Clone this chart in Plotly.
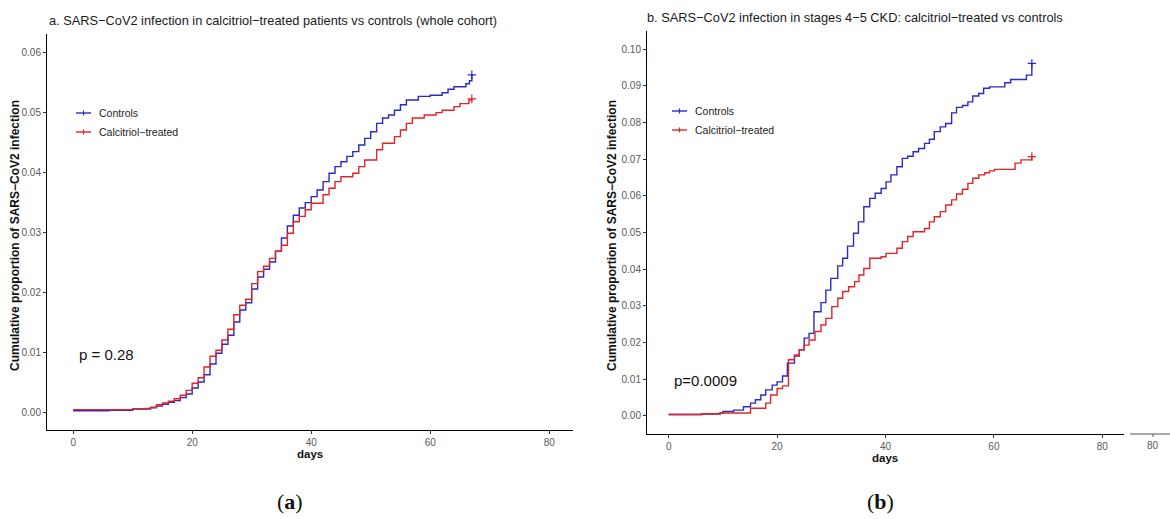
import plotly.graph_objects as go

W, H = 1170, 519

# ---------------- data ----------------
a_days_controls = [0, 6, 10, 13, 14, 15, 16, 17, 18, 19, 20, 21, 22, 23, 24, 25, 26, 27, 28, 29,
                   30, 31, 32, 33, 34, 35, 36, 37, 38, 39, 40, 41, 42, 43, 44, 45, 46, 47, 48, 49,
                   50, 51, 52, 53, 54, 55, 56, 58, 60, 62, 63, 64, 66, 66.6, 67]
a_controls = [0.0002, 0.0003, 0.0005, 0.0007, 0.0010, 0.0013, 0.0016, 0.0019, 0.0024, 0.0030,
              0.0040, 0.0050, 0.0062, 0.0080, 0.0098, 0.0113, 0.0128, 0.0150, 0.0170, 0.0182,
              0.0205, 0.0225, 0.0238, 0.0250, 0.0268, 0.0290, 0.0310, 0.0328, 0.0340, 0.0349,
              0.0359, 0.0370, 0.0384, 0.0398, 0.0409, 0.0417, 0.0426, 0.0434, 0.0445, 0.0456,
              0.0467, 0.0481, 0.0490, 0.0495, 0.0503, 0.0512, 0.0520, 0.0526, 0.0528, 0.0532,
              0.0538, 0.0542, 0.0547, 0.0552, 0.0562]
a_days_calcitriol = [0, 10, 12, 13, 14, 15, 16, 17, 18, 19, 20, 21, 22, 23, 24, 25, 26, 27, 28, 29,
                     30, 31, 32, 33, 34, 35, 36, 37, 38, 39, 40, 42, 43, 44, 45, 47, 48, 49, 51, 52,
                     54, 55, 56, 57, 59, 61, 62, 64, 65, 66.5, 67]
a_calcitriol = [0.0004, 0.0005, 0.0006, 0.0008, 0.0012, 0.0015, 0.0018, 0.0022, 0.0028, 0.0036,
                0.0048, 0.0057, 0.0075, 0.0093, 0.0103, 0.0120, 0.0138, 0.0162, 0.0178, 0.0188,
                0.0214, 0.0234, 0.0243, 0.0256, 0.0268, 0.0278, 0.0298, 0.0317, 0.0326, 0.0337,
                0.0348, 0.0362, 0.0373, 0.0384, 0.0392, 0.0398, 0.0409, 0.0420, 0.0437, 0.0448,
                0.0459, 0.0470, 0.0481, 0.0490, 0.0495, 0.0499, 0.0503, 0.0509, 0.0514, 0.0520,
                0.0522]

b_days_controls = [0, 6, 9.5, 10, 12, 13.8, 15.1, 16, 17, 17.9, 19.1, 20, 21, 21.9, 23.2, 24.1,
                   25, 25.9, 26.8, 28.1, 29, 29.9, 31.2, 32.1, 33, 34.1, 35, 36, 37.1, 38.1, 39.2,
                   40.1, 41, 42.1, 43.1, 44.1, 45.1, 46.1, 47.2, 48.1, 49, 50.1, 51.1, 52.2, 53.1,
                   54.2, 55.2, 56.1, 57.2, 58.1, 59.2, 62, 63.1, 66, 67]
b_controls = [0.0004, 0.0005, 0.0008, 0.0012, 0.0016, 0.0025, 0.0035, 0.0044, 0.0057, 0.0071,
              0.0084, 0.0093, 0.0109, 0.0144, 0.0163, 0.0180, 0.0212, 0.0225, 0.0284, 0.0309,
              0.0343, 0.0375, 0.0409, 0.0430, 0.0463, 0.0498, 0.0529, 0.0570, 0.0593, 0.0607,
              0.0620, 0.0638, 0.0657, 0.0679, 0.0702, 0.0708, 0.0720, 0.0729, 0.0743, 0.0754,
              0.0775, 0.0788, 0.0797, 0.0826, 0.0841, 0.0846, 0.0856, 0.0872, 0.0879, 0.0893,
              0.0897, 0.0908, 0.0917, 0.0929, 0.0961]
b_days_calcitriol = [0, 6.1, 9.5, 15.1, 17.9, 18.8, 20, 21, 22.1, 23.2, 24.1, 25, 25.9, 27, 28.1,
                     29, 30.1, 31.2, 32.1, 33.2, 34.3, 35.1, 36, 37.1, 39.2, 40.1, 42.1, 43.1,
                     44.1, 45.1, 47.2, 48.1, 49, 50.1, 51.1, 52.2, 53.1, 54.2, 55.2, 56.1, 57.2,
                     58.3, 59.2, 60.1, 63.9, 65, 67]
b_calcitriol = [0.0004, 0.0006, 0.0008, 0.0021, 0.0035, 0.0057, 0.0075, 0.0082, 0.0153, 0.0166,
                0.0180, 0.0193, 0.0207, 0.0230, 0.0248, 0.0266, 0.0298, 0.0321, 0.0339, 0.0352,
                0.0366, 0.0384, 0.0402, 0.0430, 0.0434, 0.0443, 0.0457, 0.0475, 0.0489, 0.0502,
                0.0511, 0.0529, 0.0543, 0.0557, 0.0575, 0.0589, 0.0605, 0.0618, 0.0634, 0.0648,
                0.0657, 0.0663, 0.0668, 0.0672, 0.0689, 0.0698, 0.0707]

series_names = ["Controls", "Calcitriol\u2212treated"]
x_ticks = [0, 20, 40, 60, 80]
a_y_ticks = [0.00, 0.01, 0.02, 0.03, 0.04, 0.05, 0.06]
b_y_ticks = [0.00, 0.01, 0.02, 0.03, 0.04, 0.05, 0.06, 0.07, 0.08, 0.09, 0.10]
p_values = ["p = 0.28", "p=0.0009"]
titles = ["a. SARS\u2212CoV2 infection in calcitriol\u2212treated patients vs controls (whole cohort)",
          "b. SARS\u2212CoV2 infection in stages 4\u22125 CKD: calcitriol\u2212treated vs controls"]
y_title = "Cumulative proportion of SARS\u2212CoV2 infection"

BLUE = "#2a2ac4"
RED = "#e02427"
FONT = "Liberation Sans, Arial, sans-serif"


def px(x):
    return x / W


def py(y):
    return 1 - y / H


fig = go.Figure()


def add_curve(days, vals, color, xa, ya):
    fig.add_trace(go.Scatter(x=days, y=vals, mode="lines", line=dict(color=color, width=1.4, shape="hv"),
                             xaxis=xa, yaxis=ya, showlegend=False, hoverinfo="skip"))
    fig.add_trace(go.Scatter(x=[days[-1]], y=[vals[-1]], mode="markers",
                             marker=dict(symbol="cross-thin", size=6, line=dict(color=color, width=1.2)),
                             xaxis=xa, yaxis=ya, showlegend=False, hoverinfo="skip"))


add_curve(a_days_controls, a_controls, BLUE, "x", "y")
add_curve(a_days_calcitriol, a_calcitriol, RED, "x", "y")
add_curve(b_days_controls, b_controls, BLUE, "x2", "y2")
add_curve(b_days_calcitriol, b_calcitriol, RED, "x2", "y2")

axis_common = dict(showline=True, linecolor="black", linewidth=1, ticks="outside", ticklen=3,
                   tickcolor="#333", tickwidth=1, showgrid=False, zeroline=False,
                   tickfont=dict(family=FONT, size=10, color="#5a5a5a"))

fig.update_layout(
    width=W, height=H, margin=dict(l=0, r=0, t=0, b=0),
    paper_bgcolor="white", plot_bgcolor="white", showlegend=False,
    xaxis=dict(domain=[px(47), px(573)], range=[-4.4, 84], tickvals=x_ticks, anchor="y", **axis_common),
    yaxis=dict(domain=[py(430), py(34)], range=[-0.003, 0.063], tickvals=a_y_ticks, tickformat=".2f",
               anchor="x", **axis_common),
    xaxis2=dict(domain=[px(647), px(1124)], range=[-4, 84], tickvals=x_ticks, anchor="y2", **axis_common),
    yaxis2=dict(domain=[py(434.3), py(30.7)], range=[-0.005, 0.105], tickvals=b_y_ticks, tickformat=".2f",
                anchor="x2", **axis_common),
)

ann = []
shapes = []


def note(text, x, y, size, xanchor="center", color="#111", family=FONT, angle=0):
    ann.append(dict(text=text, x=px(x), y=py(y), xref="paper", yref="paper", xanchor=xanchor,
                    yanchor="middle", showarrow=False, textangle=angle,
                    font=dict(family=family, size=size, color=color)))


# titles
note(titles[0], 47, 20, 12.8, xanchor="left", color="#1a1a1a")
note(titles[1], 645, 18, 12.8, xanchor="left", color="#1a1a1a")
# y titles
note("<b>" + y_title + "</b>", 15, 236, 12, angle=-90)
note("<b>" + y_title + "</b>", 612, 236, 12, angle=-90)
# x titles
note("<b>days</b>", 310, 454, 11.5)
note("<b>days</b>", 885, 458, 11.5)
# p values
note(p_values[0], 77, 354, 15, xanchor="left")
note(p_values[1], 672, 380, 15, xanchor="left")
# panel labels
serif = "Liberation Serif, DejaVu Serif, serif"
note("(<b>a</b>)", 290, 501, 22, family=serif)
note("(<b>b</b>)", 880, 501, 22, family=serif)

# manual legends
legend_pos = [(76, 113), (672, 111)]
for (lx, ly) in legend_pos:
    for i, (name, col) in enumerate(zip(series_names, [BLUE, RED])):
        yy = ly + i * 19
        shapes.append(dict(type="line", xref="paper", yref="paper", x0=px(lx), x1=px(lx + 15),
                           y0=py(yy), y1=py(yy), line=dict(color=col, width=1.4)))
        shapes.append(dict(type="line", xref="paper", yref="paper", x0=px(lx + 7.5), x1=px(lx + 7.5),
                           y0=py(yy - 2.5), y1=py(yy + 2.5), line=dict(color=col, width=1.2)))
        note(name, lx + 21, yy, 10.5, xanchor="left", color="#222")

# fragment of a neighbouring axis at the right edge
shapes.append(dict(type="line", xref="paper", yref="paper", x0=px(1130), x1=px(1170), y0=py(434),
                   y1=py(434), line=dict(color="#555", width=1.2)))
shapes.append(dict(type="line", xref="paper", yref="paper", x0=px(1153), x1=px(1153), y0=py(434),
                   y1=py(437), line=dict(color="#555", width=1)))
note(str(x_ticks[-1]), 1153, 445, 10, color="#5a5a5a")

fig.update_layout(annotations=ann, shapes=shapes)
fig.write_html("out.html")
